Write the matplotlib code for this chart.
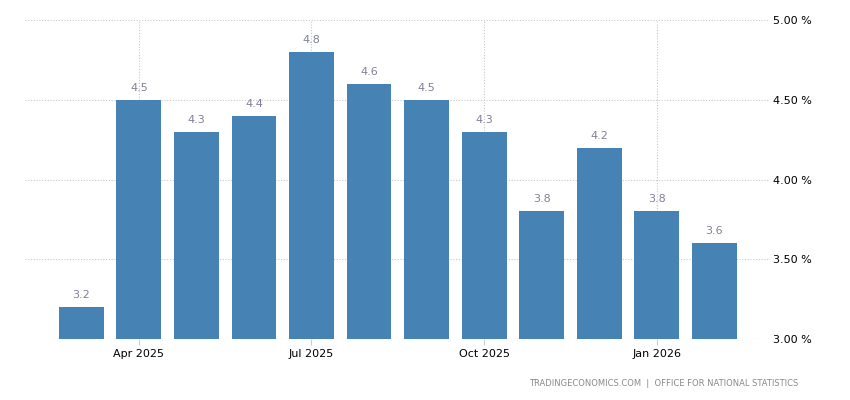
import matplotlib
matplotlib.use("Agg")
import matplotlib.pyplot as plt
import numpy as np

months = ["Mar 2025", "Apr 2025", "May 2025", "Jun 2025", "Jul 2025", "Aug 2025",
          "Sep 2025", "Oct 2025", "Nov 2025", "Dec 2025", "Jan 2026", "Feb 2026"]
values = [3.2, 4.5, 4.3, 4.4, 4.8, 4.6, 4.5, 4.3, 3.8, 4.2, 3.8, 3.6]
tick_labels = ["Apr 2025", "Jul 2025", "Oct 2025", "Jan 2026"]
y_ticks = [3.0, 3.5, 4.0, 4.5, 5.0]
source = "TRADINGECONOMICS.COM  |  OFFICE FOR NATIONAL STATISTICS"

fig = plt.figure(figsize=(8.5, 4), dpi=100)
ax = fig.add_axes([25/850, 1-339/400, (770-25)/850, (339-20)/400])

x = np.arange(len(months))
bars = ax.bar(x, [v - 3.0 for v in values], bottom=3.0, width=0.78, color="#4682B4", zorder=3)

for xi, v in zip(x, values):
    ax.annotate(f"{v:.1f}", (xi, v), xytext=(0, 5), textcoords="offset points",
                ha="center", va="bottom", fontsize=8, color="#80809a")

ax.set_xlim(-0.98, 11.97)
ax.set_ylim(3.0, 5.0)

tick_pos = [months.index(t) for t in tick_labels]
ax.set_xticks(tick_pos)
ax.set_xticklabels(tick_labels, fontsize=8, color="black")
ax.tick_params(axis="x", length=4, width=0.8, color="#cccccc", pad=3)

ax.yaxis.tick_right()
ax.set_yticks(y_ticks)
ax.set_yticklabels([f"{t:.2f} %" for t in y_ticks], fontsize=8, color="black")
ax.tick_params(axis="y", length=0, pad=2)

ax.grid(True, axis="both", linestyle=(0, (1, 1.5)), color="#c8c8c8", linewidth=0.8, zorder=0)
for s in ax.spines.values():
    s.set_visible(False)

fig.text(798/850, 1-383/400, source, ha="right", va="center", fontsize=6, color="#8a8a8a")

fig.savefig("out.png", dpi=100)
